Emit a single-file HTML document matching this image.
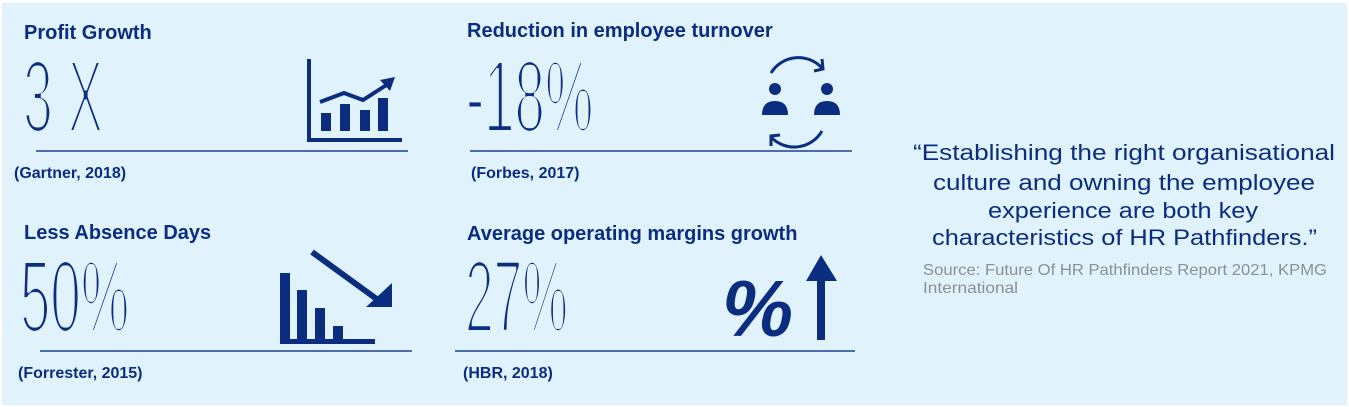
<!DOCTYPE html>
<html><head><meta charset="utf-8"><style>
html,body{margin:0;padding:0;background:#fff;}
svg{display:block;}
</style></head><body>
<svg width="1349" height="407" viewBox="0 0 1349 407" xmlns="http://www.w3.org/2000/svg" font-family="Liberation Sans, sans-serif">
<defs>
<filter id="thin" x="-10%" y="-10%" width="120%" height="120%" filterUnits="objectBoundingBox" primitiveUnits="userSpaceOnUse">
<feMorphology operator="erode" radius="1 1.9"/>
</filter>
</defs>
<rect x="2" y="3" width="1345" height="402" fill="#e0f3fc"/>
<g fill="#0b2d80" font-weight="bold" font-size="20">
<text x="24" y="39">Profit Growth</text>
<text x="467" y="37">Reduction in employee turnover</text>
<text x="24" y="239">Less Absence Days</text>
<text x="467" y="240">Average operating margins growth</text>
</g>
<g fill="#0b2d80" font-weight="bold" font-size="16">
<text x="14" y="178">(Gartner, 2018)</text>
<text x="471" y="178">(Forbes, 2017)</text>
<text x="18" y="378">(Forrester, 2015)</text>
<text x="463" y="378">(HBR, 2018)</text>
</g>
<g fill="#0b2d80" font-size="103" filter="url(#thin)">
<text transform="translate(23,132) scale(0.52,1)">3 X</text>
<text transform="translate(466,132) scale(0.53,1)">-18%</text>
<text transform="translate(20,332) scale(0.53,1)">50%</text>
<text transform="translate(465,332) scale(0.5,1)">27%</text>
</g>
<g stroke="#1a3f8f" stroke-width="1.5">
<line x1="36" y1="151" x2="408" y2="151"/>
<line x1="470" y1="151" x2="852" y2="151"/>
<line x1="40" y1="351" x2="412" y2="351"/>
<line x1="455" y1="351" x2="855" y2="351"/>
</g>
<g fill="#0b2d80" stroke="#0b2d80">
<polyline points="309,59 309,140 402,140" fill="none" stroke-width="4"/>
<rect x="321" y="113" width="10" height="18" stroke="none"/>
<rect x="340" y="104" width="10" height="27" stroke="none"/>
<rect x="360" y="110" width="10" height="21" stroke="none"/>
<rect x="378" y="98" width="10" height="33" stroke="none"/>
<polyline points="320,102 344,93 363,100 388,84" fill="none" stroke-width="4"/>
<polygon points="380,80 395,77 390,91" stroke="none"/>
<path d="M771,73 A32,32 0 0,1 822,68" fill="none" stroke-width="3"/>
<polyline points="822,59 823,69 814,71" fill="none" stroke-width="3"/>
<path d="M822,131 A32,32 0 0,1 771,137" fill="none" stroke-width="3"/>
<polyline points="771,146 771,136 780,135" fill="none" stroke-width="3"/>
<circle cx="775" cy="89" r="6" stroke="none"/>
<path d="M762,115 Q762,101 775,101 Q788,101 788,115 Z" stroke="none"/>
<circle cx="827" cy="89" r="6" stroke="none"/>
<path d="M814,115 Q814,101 827,101 Q840,101 840,115 Z" stroke="none"/>
<rect x="280" y="273" width="10" height="70" stroke="none"/>
<rect x="280" y="339" width="95" height="5" stroke="none"/>
<rect x="297" y="290" width="10" height="52" stroke="none"/>
<rect x="315" y="308" width="10" height="34" stroke="none"/>
<rect x="333" y="326" width="10" height="16" stroke="none"/>
<line x1="312" y1="252" x2="378" y2="300" stroke-width="6"/>
<polygon points="366,307 392,307 392,283" stroke="none"/>
<text x="722" y="336" font-size="80" font-weight="bold" stroke="none" font-style="italic">%</text>
<rect x="817" y="278" width="8" height="62" stroke="none"/>
<polygon points="806,281 837,281 821,255" stroke="none"/>
</g>
<g fill="#0b2d80" font-size="22">
<text x="913" y="160" textLength="422" lengthAdjust="spacingAndGlyphs">“Establishing the right organisational</text>
<text x="933" y="190" textLength="382" lengthAdjust="spacingAndGlyphs">culture and owning the employee</text>
<text x="988" y="218" textLength="270" lengthAdjust="spacingAndGlyphs">experience are both key</text>
<text x="932" y="245" textLength="385" lengthAdjust="spacingAndGlyphs">characteristics of HR Pathfinders.”</text>
</g>
<g fill="#8a8f96" font-size="16">
<text x="923" y="275" textLength="404" lengthAdjust="spacingAndGlyphs">Source: Future Of HR Pathfinders Report 2021, KPMG</text>
<text x="923" y="293" textLength="95" lengthAdjust="spacingAndGlyphs">International</text>
</g>
</svg>
</body></html>
